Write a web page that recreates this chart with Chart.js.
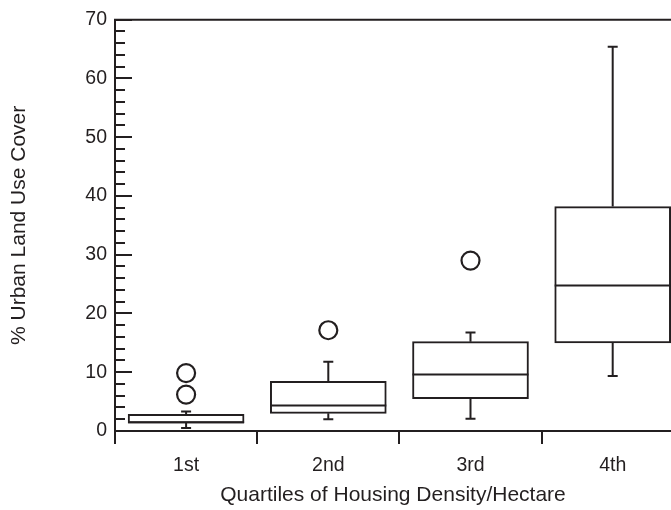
<!DOCTYPE html>
<html>
<head>
<meta charset="utf-8">
<script src="https://cdn.jsdelivr.net/npm/chart.js@4.4.1/dist/chart.umd.min.js"></script>
<style>
  html, body { margin: 0; padding: 0; background: #fff; }
  #wrap { width: 671px; height: 510px; }
</style>
</head>
<body>
<div id="wrap"><canvas id="chart"></canvas></div>
<script>
// Box plot values
const quartiles = ['1st', '2nd', '3rd', '4th'];
const whiskerLow = [0.5, 2.0, 2.1, 9.35];
const boxLow = [1.33, 3.0, 5.5, 15.0];
const medians = [1.5, 4.35, 9.6, 24.75];
const boxHigh = [2.85, 8.45, 15.2, 38.2];
const whiskerHigh = [3.3, 11.8, 16.75, 65.4];

// outliers: which quartile (1-based) and value
const outlierGroup = [1, 1, 2, 3];
const outlierValue = [9.85, 6.2, 17.15, 29.0];

const yTickLabels = [0, 10, 20, 30, 40, 50, 60, 70];
const yMinorStep = 2;

const ink = '#231f20';
const fontFamily = '"Liberation Sans", Arial, Helvetica, sans-serif';

// whiskers, medians and the axis tick marks the library doesn't draw inward
const boxExtras = {
  id: 'boxExtras',
  afterDatasetsDraw(chart) {
    const ctx = chart.ctx;
    const y = chart.scales.y;
    const bars = chart.getDatasetMeta(0).data;
    ctx.save();
    ctx.strokeStyle = ink;
    ctx.lineWidth = 2;
    bars.forEach((bar, i) => {
      const cx = bar.x;
      const half = bar.width / 2;
      const cap = 5;
      ctx.beginPath();
      // median
      ctx.moveTo(cx - half, y.getPixelForValue(medians[i]));
      ctx.lineTo(cx + half, y.getPixelForValue(medians[i]));
      // upper whisker
      ctx.moveTo(cx, y.getPixelForValue(boxHigh[i]));
      ctx.lineTo(cx, y.getPixelForValue(whiskerHigh[i]));
      ctx.moveTo(cx - cap, y.getPixelForValue(whiskerHigh[i]));
      ctx.lineTo(cx + cap, y.getPixelForValue(whiskerHigh[i]));
      // lower whisker
      ctx.moveTo(cx, y.getPixelForValue(boxLow[i]));
      ctx.lineTo(cx, y.getPixelForValue(whiskerLow[i]));
      ctx.moveTo(cx - cap, y.getPixelForValue(whiskerLow[i]));
      ctx.lineTo(cx + cap, y.getPixelForValue(whiskerLow[i]));
      ctx.stroke();
    });
    ctx.restore();
  },
  afterDraw(chart) {
    const ctx = chart.ctx;
    const { x, y } = chart.scales;
    const area = chart.chartArea;
    ctx.save();
    ctx.strokeStyle = ink;
    ctx.lineWidth = 2;
    ctx.beginPath();
    // top frame line
    ctx.moveTo(area.left - 1, area.top);
    ctx.lineTo(area.right, area.top);
    // y ticks pointing inward
    for (let v = y.min; v <= y.max; v += yMinorStep) {
      const py = Math.round(y.getPixelForValue(v));
      const len = yTickLabels.includes(v) ? 17 : 10;
      ctx.moveTo(area.left, py);
      ctx.lineTo(area.left + len, py);
    }
    // x ticks at the category boundaries
    for (let i = 0; i < quartiles.length; i++) {
      const px = Math.round(x.getPixelForValue(i + 0.5));
      ctx.moveTo(px, area.bottom);
      ctx.lineTo(px, area.bottom + 13);
    }
    ctx.stroke();
    ctx.restore();
  }
};

new Chart(document.getElementById('chart'), {
  type: 'bar',
  data: {
    datasets: [
      {
        type: 'bar',
        data: quartiles.map((q, i) => ({ x: i + 1, y: [boxLow[i], boxHigh[i]] })),
        backgroundColor: '#fff',
        borderColor: ink,
        borderWidth: 2,
        borderSkipped: false,
        barThickness: 116,
        clip: false,
        order: 2
      },
      {
        type: 'scatter',
        data: outlierValue.map((v, i) => ({ x: outlierGroup[i], y: v })),
        pointStyle: 'circle',
        pointRadius: 9,
        pointBackgroundColor: 'rgba(255,255,255,0)',
        pointBorderColor: ink,
        pointBorderWidth: 2.2,
        order: 1
      }
    ]
  },
  options: {
    responsive: true,
    maintainAspectRatio: false,
    animation: false,
    layout: { autoPadding: false, padding: { top: 16, right: 0, left: 0, bottom: 0 } },
    plugins: { legend: { display: false }, tooltip: { enabled: false } },
    scales: {
      x: {
        type: 'linear',
        offset: false,
        min: 0.5,
        max: 4.41,
        afterBuildTicks: s => { s.ticks = quartiles.map((q, i) => ({ value: i + 1 })); },
        afterFit: s => { s.height = 79; s.paddingRight = 0; s.paddingLeft = 0; },
        ticks: {
          callback: v => quartiles[v - 1],
          color: ink,
          font: { family: fontFamily, size: 19.5 },
          padding: 23,
          autoSkip: false,
          maxRotation: 0
        },
        grid: { drawOnChartArea: false, drawTicks: false },
        border: { color: ink, width: 2 },
        title: {
          display: true,
          text: 'Quartiles of Housing Density/Hectare',
          color: ink,
          font: { family: fontFamily, size: 21 },
          padding: { top: 4, bottom: 2 }
        }
      },
      y: {
        min: 0,
        max: 70,
        afterFit: s => { s.width = 115; },
        afterBuildTicks: s => { s.ticks = yTickLabels.map(v => ({ value: v })); },
        ticks: {
          color: ink,
          font: { family: fontFamily, size: 19.5 },
          padding: 8
        },
        grid: { drawOnChartArea: false, drawTicks: false },
        border: { color: ink, width: 2 },
        title: {
          display: true,
          text: '% Urban Land Use Cover',
          color: ink,
          font: { family: fontFamily, size: 21 },
          padding: { top: 7, bottom: 4 }
        }
      }
    }
  },
  plugins: [boxExtras]
});
</script>
</body>
</html>
